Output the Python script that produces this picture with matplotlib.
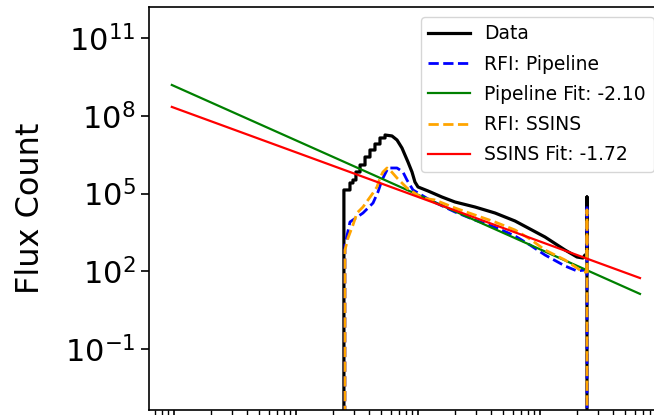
import matplotlib
matplotlib.use("Agg")
import matplotlib.pyplot as plt
from matplotlib.ticker import NullLocator, LogLocator
import numpy as np

# ---- data ----
data_x = [24.7, 24.7, 27.7, 27.7, 29.3, 29.3, 31.0, 31.0, 33.5, 33.5, 36.8, 36.8,
          40.4, 40.4, 44.4, 44.4, 48.8, 48.8, 53.7, 53.7, 61.2, 67.3, 73.9, 78.2,
          82.8, 89.3, 94.4, 100, 121, 157, 201, 293, 428, 624, 828, 1099,
          1603, 2010, 2250, 2338, 2427, 2427, 2427]
data_y = [0, 1.37e5, 1.37e5, 2.55e5, 2.55e5, 3.32e5, 3.32e5, 6.76e5, 6.76e5, 1.26e6,
          1.26e6, 2.56e6, 2.56e6, 4.77e6, 4.77e6, 8.13e6, 8.13e6, 1.39e7, 1.39e7,
          1.81e7, 1.66e7, 1.16e7, 5.70e6, 3.06e6, 1.64e6, 6.76e5, 2.78e5, 1.79e5,
          1.25e5, 7.34e4, 4.71e4, 3.02e4, 1.77e4, 8.71e3, 4.28e3, 2.10e3,
          662, 356, 325, 425, 425, 7.34e4, 0]

pipe_x = [25.2, 25.2, 27.7, 35.4, 42.8, 47.0, 50.7, 56.8, 67.3, 75.3, 81.2, 91.0,
          125, 201, 293, 444, 624, 828, 1099, 1603, 2010, 2338, 2427, 2427, 2427]
pipe_y = [0, 1.03e3, 7.96e3, 1.77e4, 4.31e4, 1.15e5, 3.32e5, 9.66e5, 9.66e5, 6.76e5,
          3.32e5, 1.37e5, 5.62e4, 1.94e4, 9.51e3, 4.68e3, 2.30e3, 1.03e3, 425, 160,
          103, 112, 112, 3.61e4, 0]

ssins_x = [25.2, 25.2, 26.7, 29.3, 31.6, 35.4, 38.9, 42.8, 46.1, 48.8, 51.6, 55.7,
           58.9, 67.3, 73.9, 81.2, 91.0, 108, 138, 201, 293, 428, 624, 828, 1099,
           1603, 2010, 2250, 2427, 2427, 2427]
ssins_y = [0, 662, 1.92e3, 6.10e3, 1.77e4, 3.02e4, 5.62e4, 1.05e5, 1.79e5, 3.97e5,
           6.76e5, 9.66e5, 8.08e5, 3.97e5, 2.55e5, 1.63e5, 1.15e5, 6.72e4, 5.62e4,
           2.76e4, 1.48e4, 7.96e3, 3.92e3, 1.76e3, 662, 272, 134, 93.8, 93.8, 2.31e4, 0]

fit_x = [0.96, 6600]
pipe_fit_y = [1.54e9, 13.4]
ssins_fit_y = [2.19e8, 54.9]

labels = ["Data", "RFI: Pipeline", "Pipeline Fit: -2.10", "RFI: SSINS", "SSINS Fit: -1.72"]
yticks = [1e-1, 1e2, 1e5, 1e8, 1e11]

# ---- figure ----
fig = plt.figure(figsize=(6.54, 4.15), dpi=100)
ax = fig.add_axes([149 / 654, 5 / 415, 514 / 654, 402.5 / 415])

ax.plot(data_x, data_y, color="black", lw=2.3, label=labels[0])
ax.plot(pipe_x, pipe_y, color="blue", lw=2.0, ls="--", label=labels[1])
ax.plot(fit_x, pipe_fit_y, color="green", lw=1.6, label=labels[2])
ax.plot(ssins_x, ssins_y, color="orange", lw=2.0, ls="--", label=labels[3])
ax.plot(fit_x, ssins_fit_y, color="red", lw=1.6, label=labels[4])

ax.set_xscale("log")
ax.set_yscale("log")
ax.set_xlim(0.624, 10190)
ax.set_ylim(4.45e-4, 1.5e12)
ax.set_yticks(yticks)
ax.yaxis.set_minor_locator(NullLocator())
ax.xaxis.set_major_locator(LogLocator(base=10))
ax.xaxis.set_minor_locator(LogLocator(base=10, subs=np.arange(2, 10)))

ax.tick_params(axis="y", which="major", labelsize=22, length=6, width=1.2)
ax.tick_params(axis="x", which="major", length=6, width=1.2, labelbottom=False)
ax.tick_params(axis="x", which="minor", length=3.5, width=1.0)
for s in ax.spines.values():
    s.set_linewidth(1.2)

ax.set_ylabel("Flux Count", fontsize=23, labelpad=14)

ax.legend(loc="upper right", fontsize=13.5, handlelength=2.2, labelspacing=0.6)

fig.savefig("out.png", dpi=100)
